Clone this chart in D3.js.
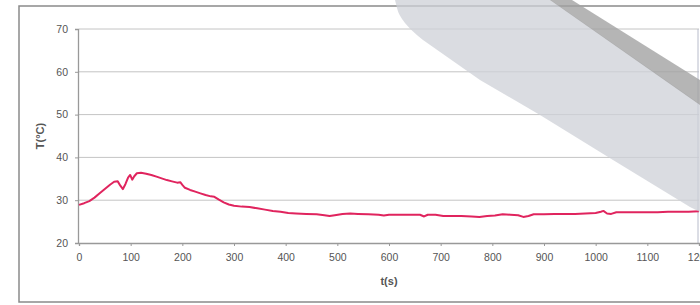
<!DOCTYPE html>
<html>
<head>
<meta charset="utf-8">
<script src="https://cdn.jsdelivr.net/npm/d3@7"></script>
<style>
  body { margin: 0; background: #fff; }
  text { font-family: "Liberation Sans", Arial, sans-serif; fill: #555; }
</style>
</head>
<body>
<div id="vis"></div>
<script>
const W = 700, H = 305;
const margin = { top: 29, right: 1, bottom: 62, left: 79 };

// time (s) and temperature (°C)
const timeS = [0, 10, 20, 30, 40, 50, 60, 68, 75, 80, 85, 90, 95, 99, 103, 107, 112, 120, 130, 140,
  150, 160, 170, 180, 190, 196, 200, 205, 215, 225, 235, 245, 255, 262, 270, 280, 290, 300, 315, 330,
  345, 360, 375, 390, 405, 420, 440, 460, 475, 485, 495, 510, 525, 540, 560, 580, 590, 600, 620, 640,
  660, 668, 675, 690, 705, 720, 740, 760, 775, 790, 805, 820, 835, 850, 860, 870, 880, 900, 920, 940,
  960, 980, 1000, 1010, 1015, 1022, 1030, 1040, 1060, 1080, 1100, 1120, 1140, 1160, 1180, 1200];
const tempC = [28.9, 29.3, 29.8, 30.6, 31.6, 32.6, 33.6, 34.3, 34.4, 33.4, 32.6, 33.8, 35.3, 35.9, 34.8, 35.6, 36.3, 36.4, 36.2, 35.9,
  35.5, 35.1, 34.7, 34.4, 34.1, 34.2, 33.6, 32.9, 32.4, 32.0, 31.6, 31.2, 30.9, 30.8, 30.2, 29.5, 29.0, 28.7, 28.5, 28.4,
  28.1, 27.8, 27.5, 27.3, 27.0, 26.9, 26.8, 26.7, 26.5, 26.3, 26.5, 26.8, 26.9, 26.8, 26.7, 26.6, 26.4, 26.6, 26.6, 26.6,
  26.6, 26.2, 26.6, 26.6, 26.3, 26.3, 26.3, 26.2, 26.1, 26.3, 26.4, 26.7, 26.6, 26.5, 26.1, 26.3, 26.7, 26.7, 26.8, 26.8,
  26.8, 26.9, 27.0, 27.3, 27.5, 26.9, 26.8, 27.2, 27.2, 27.2, 27.2, 27.2, 27.3, 27.3, 27.3, 27.4];

const xTicks = [0, 100, 200, 300, 400, 500, 600, 700, 800, 900, 1000, 1100, 1200];
const yTicks = [20, 30, 40, 50, 60, 70];

const svg = d3.select("#vis").append("svg")
  .attr("width", W).attr("height", H);

// outer chart frame
svg.append("rect")
  .attr("x", 19).attr("y", 6)
  .attr("width", W).attr("height", 296)
  .attr("fill", "none").attr("stroke", "#8a8a8a").attr("stroke-width", 1.5);

const x = d3.scaleLinear().domain([0, 1200]).range([margin.left, W - margin.right]);
const y = d3.scaleLinear().domain([20, 70]).range([H - margin.bottom, margin.top]);

// gridlines
svg.append("g")
  .selectAll("line")
  .data(yTicks.slice(1))
  .join("line")
  .attr("x1", x(0)).attr("x2", x(1200))
  .attr("y1", d => y(d)).attr("y2", d => y(d))
  .attr("stroke", "#c4c4c4");

// plot right edge
svg.append("line")
  .attr("x1", x(1200) - 1).attr("x2", x(1200) - 1)
  .attr("y1", y(70)).attr("y2", y(20))
  .attr("stroke", "#b8bccb");

// axes
const yAxis = svg.append("g")
  .attr("transform", `translate(${x(0) - 1},0)`)
  .call(d3.axisLeft(y).tickValues(yTicks).tickSize(3).tickPadding(7));
const xAxis = svg.append("g")
  .attr("transform", `translate(0,${y(20)})`)
  .call(d3.axisBottom(x).tickValues(xTicks).tickFormat(d3.format("d")).tickSize(3).tickPadding(8));

[xAxis, yAxis].forEach(a => {
  a.select(".domain").attr("stroke", "#999").attr("stroke-width", 1.3);
  a.selectAll(".tick line").attr("stroke", "#999");
  a.selectAll(".tick text").style("font-size", "10.5px").attr("fill", "#555");
});

// axis titles
svg.append("text")
  .attr("x", (x(0) + x(1200)) / 2).attr("y", 285)
  .attr("text-anchor", "middle")
  .style("font-size", "11px").style("font-weight", "bold")
  .text("t(s)");

svg.append("text")
  .attr("transform", `translate(44,136) rotate(-90)`)
  .attr("text-anchor", "middle")
  .style("font-size", "11px").style("font-weight", "bold")
  .text("T(°C)");

// temperature line
const line = d3.line()
  .x((d, i) => x(timeS[i]))
  .y(d => y(d));

svg.append("path")
  .datum(tempC)
  .attr("d", line)
  .attr("fill", "none")
  .attr("stroke", "#e0245e")
  .attr("stroke-width", 2)
  .attr("stroke-linejoin", "round");

// shadow cast on the photographed page
svg.append("path")
  .attr("d", "M395,0 L551,0 L700,104 L700,212 L690,207 L613,160 L540,115 L480,80 L423,40 Q400,22 397,8 Z")
  .attr("fill", "#cdd0d7").attr("opacity", 0.75);
svg.append("path")
  .attr("d", "M550,0 L572,0 L700,80 L700,105 Z")
  .attr("fill", "#a2a2a2").attr("opacity", 0.8);
</script>
</body>
</html>
